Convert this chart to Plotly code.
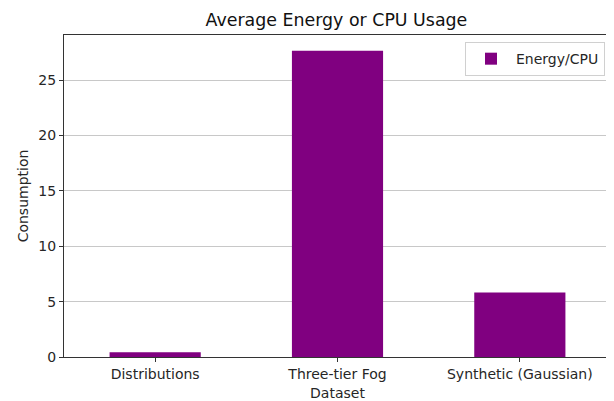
import plotly.graph_objects as go

categories = ["Distributions", "Three-tier Fog", "Synthetic (Gaussian)"]
values = [0.42, 27.65, 5.83]
series_name = "Energy/CPU"

fig = go.Figure()
fig.add_trace(go.Bar(
    x=categories, y=values, name=series_name,
    marker=dict(color="#800080", line=dict(width=0)),
    width=0.5,
))

axis_common = dict(
    showline=True, linecolor="#333333", linewidth=1, mirror=True,
    ticks="outside", ticklen=4, tickcolor="#333333",
    tickfont=dict(family="DejaVu Sans", size=14, color="#262626"),
    zeroline=False, automargin=False,
)

# page body has an 8px margin, so the figure is sized to fit the 614x401 window
fig.update_layout(
    width=606, height=393,
    margin=dict(l=56, r=3, t=27, b=44, autoexpand=False),
    paper_bgcolor="white", plot_bgcolor="white",
    font=dict(family="DejaVu Sans", color="#262626"),
    title=dict(text="Average Energy or CPU Usage", x=0.542, xanchor="center",
               y=0.969, yanchor="middle", automargin=False,
               font=dict(size=17.4, family="DejaVu Sans", color="#111111")),
    showlegend=True,
    legend=dict(x=0.989, y=0.978, xanchor="right", yanchor="top",
                bordercolor="#d0d0d0", borderwidth=1, bgcolor="white",
                itemwidth=40,
                font=dict(size=14, family="DejaVu Sans")),
    xaxis=dict(**axis_common, range=[-0.5, 2.5], showgrid=False,
               title=dict(text="Dataset", font=dict(size=14), standoff=7)),
    yaxis=dict(**axis_common, range=[0, 29.07], showgrid=True,
               gridcolor="#c8c8c8", gridwidth=1,
               tickvals=[0, 5, 10, 15, 20, 25],
               title=dict(text="Consumption", font=dict(size=14), standoff=6)),
    bargap=0.5,
)

fig.write_html("out.html")
